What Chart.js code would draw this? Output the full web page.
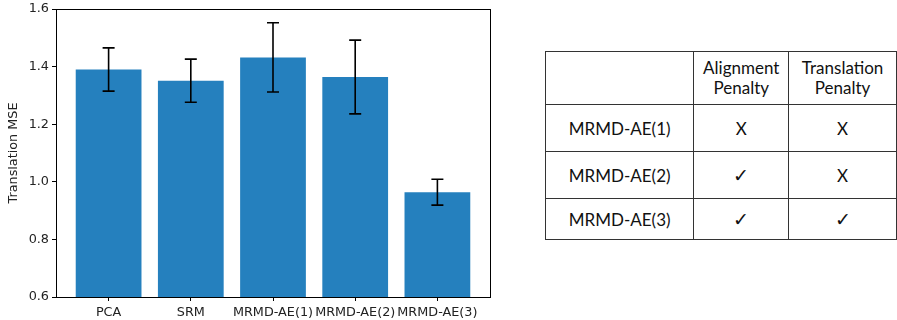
<!DOCTYPE html>
<html>
<head>
<meta charset="utf-8">
<script src="https://cdn.jsdelivr.net/npm/chart.js@4.4.1/dist/chart.umd.min.js"></script>
<style>
  html, body { margin: 0; padding: 0; background: #fff; }
  #wrap { position: relative; width: 897px; height: 320px; }
  #chart-box { position: absolute; left: 0; top: 0; width: 500px; height: 320px; }
  #penalties {
    position: absolute; left: 545px; top: 51px;
    border-collapse: collapse;
    font-family: Lato, "Open Sans", sans-serif;
    font-size: 17px; color: #111;
  }
  #penalties td {
    border: 1.5px solid #333; text-align: center; vertical-align: middle; padding: 0;
  }
  #penalties .head td { height: 52px; line-height: 20px; }
  #penalties .row td { height: 46px; }
  #penalties .row.last td { height: 40px; }
  #penalties .mark { font-family: "DejaVu Sans", sans-serif; font-weight: 200; font-size: 19px; }
</style>
</head>
<body>
<div id="wrap">
  <div id="chart-box"><canvas id="chart" width="500" height="320"></canvas></div>
  <table id="penalties"></table>
</div>
<script>
// bar chart data
const methods = ['PCA', 'SRM', 'MRMD-AE(1)', 'MRMD-AE(2)', 'MRMD-AE(3)']
const mse = [1.39, 1.351, 1.432, 1.364, 0.964]
const mseErr = [0.075, 0.075, 0.12, 0.128, 0.045]
const yTicks = [0.6, 0.8, 1.0, 1.2, 1.4, 1.6]

// table data
const tableHeader = ['', 'Alignment<br>Penalty', 'Translation<br>Penalty']
const tableRows = ['MRMD-AE(1)', 'MRMD-AE(2)', 'MRMD-AE(3)']
const alignmentPenalty = ['X', '✓', '✓']
const translationPenalty = ['X', 'X', '✓']

// build the table
const table = document.getElementById('penalties')
const widths = [148, 94, 107]
const markCell = m => m === '✓' ? `<td class="mark">${m}</td>` : `<td>${m}</td>`
let html = '<tr class="head">' + tableHeader.map((h, i) =>
  `<td style="width:${widths[i]}px">${h}</td>`).join('') + '</tr>'
tableRows.forEach((name, i) => {
  const cls = i === tableRows.length - 1 ? 'row last' : 'row'
  html += `<tr class="${cls}"><td>${name}</td>${markCell(alignmentPenalty[i])}${markCell(translationPenalty[i])}</tr>`
})
table.innerHTML = html

// matplotlib-like frame around the axes
const framePlugin = {
  id: 'frame',
  afterDraw(chart) {
    const {ctx, chartArea: a} = chart
    ctx.save()
    ctx.strokeStyle = '#000'
    ctx.lineWidth = 1
    ctx.strokeRect(a.left + 0.5, a.top + 0.5, a.right - a.left, a.bottom - a.top)
    ctx.restore()
  }
}

// error bars drawn through the scales
const errorBarPlugin = {
  id: 'errorBars',
  afterDatasetsDraw(chart) {
    const {ctx, scales: {x, y}} = chart
    ctx.save()
    ctx.strokeStyle = '#000'
    ctx.lineWidth = 1.6
    mse.forEach((v, i) => {
      const px = x.getPixelForValue(i)
      const top = y.getPixelForValue(v + mseErr[i])
      const bot = y.getPixelForValue(v - mseErr[i])
      ctx.beginPath()
      ctx.moveTo(px, top); ctx.lineTo(px, bot)
      ctx.moveTo(px - 6, top); ctx.lineTo(px + 6, top)
      ctx.moveTo(px - 6, bot); ctx.lineTo(px + 6, bot)
      ctx.stroke()
    })
    ctx.restore()
  }
}

const tickFont = {family: '"DejaVu Sans"', size: 12.8}

new Chart(document.getElementById('chart'), {
  type: 'bar',
  data: {
    datasets: [{
      data: mse.map((v, i) => ({x: i, y: v})),
      backgroundColor: '#2580be',
      borderWidth: 0,
      categoryPercentage: 1,
      barPercentage: 0.8
    }]
  },
  options: {
    responsive: false,
    animation: false,
    layout: {padding: {left: 0, top: 9, right: 10, bottom: 0}},
    plugins: {legend: {display: false}, tooltip: {enabled: false}},
    scales: {
      x: {
        type: 'linear',
        offset: false,
        min: -0.64,
        max: 4.64,
        afterBuildTicks: axis => { axis.ticks = methods.map((_, i) => ({value: i})) },
        afterFit: s => { s.height = 23; s.paddingLeft = 0; s.paddingRight = 0 },
        ticks: {
          callback: v => methods[v],
          color: '#222', font: tickFont, padding: 4, maxRotation: 0, autoSkip: false
        },
        grid: {offset: false, drawOnChartArea: false, drawTicks: true, tickLength: 4, color: '#000'},
        border: {display: true, color: '#000'}
      },
      y: {
        min: 0.6,
        max: 1.6,
        afterBuildTicks: axis => { axis.ticks = yTicks.map(v => ({value: v})) },
        afterFit: s => { s.width = 56; s.paddingTop = 0; s.paddingBottom = 0 },
        ticks: {callback: v => v.toFixed(1), color: '#222', font: tickFont, padding: 3},
        grid: {drawOnChartArea: false, drawTicks: true, tickLength: 4, color: '#000'},
        border: {display: true, color: '#000'},
        title: {display: true, text: 'Translation MSE', color: '#222', font: {family: '"DejaVu Sans"', size: 12.8}, padding: {top: 6, bottom: 0}}
      }
    }
  },
  plugins: [framePlugin, errorBarPlugin]
})
</script>
</body>
</html>
